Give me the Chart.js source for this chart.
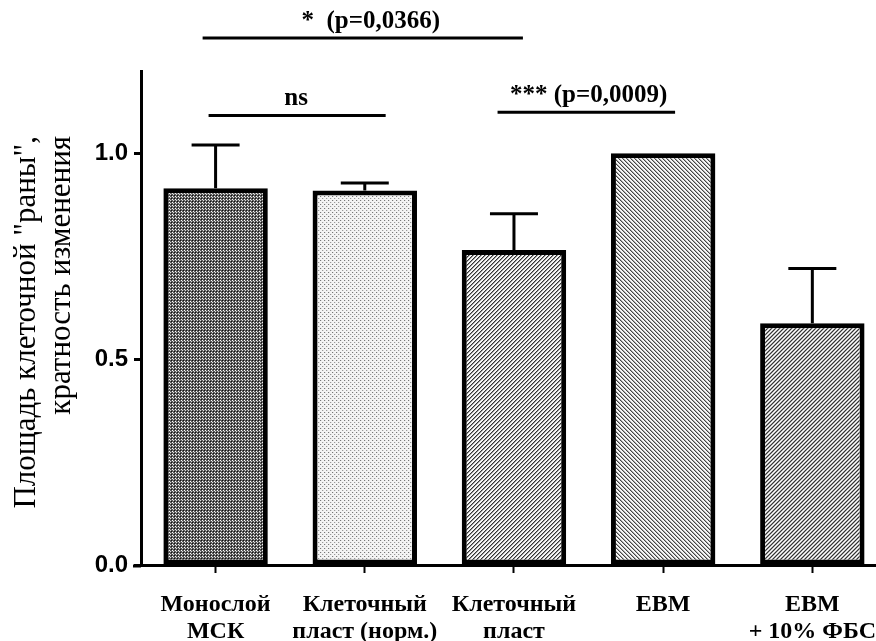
<!DOCTYPE html>
<html>
<head>
<meta charset="utf-8">
<script src="https://cdn.jsdelivr.net/npm/chart.js@4.4.1/dist/chart.umd.min.js"></script>
<style>
    html, body { margin: 0; padding: 0; background: #fff; overflow: hidden; }
    #chart { display: block; }
</style>
</head>
<body>
<canvas id="chart" width="894" height="641"></canvas>
<script>
const categories = [['Монослой', 'МСК'], ['Клеточный', 'пласт (норм.)'], ['Клеточный', 'пласт'], 'EBM', ['EBM', '+ 10% ФБС']];
const means = [0.915, 0.91, 0.765, 1.0, 0.587];
const sem = [0.105, 0.018, 0.088, 0, 0.133];
const yTicks = [0, 0.5, 1.0];
const yTitle = ['Площадь клеточной "раны",', 'кратность изменения'];

// brackets: [fromIndex, toIndex, level (data units), label, label centre index]
const brackets = [
    [-0.087, 2.06, 1.28, '*  (p=0,0366)', 1.04],
    [-0.047, 1.14, 1.092, 'ns', 0.54],
    [1.89, 3.08, 1.10, '*** (p=0,0009)', 2.5]
];

const makePattern = (size, bg, dots) => {
    const c = document.createElement('canvas');
    c.width = size; c.height = size;
    const g = c.getContext('2d');
    g.fillStyle = bg;
    g.fillRect(0, 0, size, size);
    dots.forEach(([x, y, col]) => { g.fillStyle = col; g.fillRect(x, y, 1, 1); });
    return document.getElementById('chart').getContext('2d').createPattern(c, 'repeat');
};

const patterns = [
    makePattern(3, '#5a5a5a', [[0, 0, '#111'], [1, 1, '#fff'], [2, 2, '#ddd']]),
    makePattern(4, '#f4f4f4', [[0, 0, '#777'], [2, 2, '#999'], [1, 0, '#ddd'], [3, 2, '#ddd']]),
    makePattern(4, '#f6f6f6', [[3, 0, '#333'], [2, 1, '#333'], [1, 2, '#333'], [0, 3, '#333'], [0, 0, '#999'], [3, 1, '#999'], [2, 2, '#999'], [1, 3, '#999']]),
    makePattern(4, '#f6f6f6', [[0, 0, '#444'], [1, 1, '#444'], [2, 2, '#444'], [3, 3, '#444'], [1, 0, '#aaa'], [2, 1, '#aaa'], [3, 2, '#aaa'], [0, 3, '#aaa']]),
    makePattern(4, '#b0b0b0', [[3, 0, '#333'], [2, 1, '#333'], [1, 2, '#333'], [0, 3, '#333'], [1, 0, '#fff'], [0, 1, '#fff'], [3, 2, '#fff'], [2, 3, '#fff']])
];

const errorBars = {
    id: 'errorBars',
    afterDatasetsDraw(chart) {
        const { ctx, scales: { y } } = chart;
        const meta = chart.getDatasetMeta(0);
        ctx.save();
        ctx.strokeStyle = '#000';
        ctx.lineWidth = 3;
        meta.data.forEach((bar, i) => {
            if (!sem[i]) return;
            const top = y.getPixelForValue(means[i] + sem[i]);
            ctx.beginPath();
            ctx.moveTo(bar.x, bar.y);
            ctx.lineTo(bar.x, top);
            ctx.moveTo(bar.x - 24, top);
            ctx.lineTo(bar.x + 24, top);
            ctx.stroke();
        });
        ctx.restore();
    }
};

const annotations = {
    id: 'annotations',
    afterDraw(chart) {
        const { ctx, chartArea, scales: { x, y } } = chart;
        ctx.save();
        ctx.strokeStyle = '#000';
        ctx.fillStyle = '#000';
        ctx.lineWidth = 3;

        // x axis line runs a little past the y axis on the left
        ctx.beginPath();
        ctx.moveTo(chartArea.left - 8, chartArea.bottom + 1);
        ctx.lineTo(chartArea.left, chartArea.bottom + 1);
        ctx.stroke();

        ctx.font = 'bold 25px "Liberation Serif", serif';
        ctx.textAlign = 'center';
        ctx.textBaseline = 'alphabetic';
        brackets.forEach(([a, b, level, label, mid]) => {
            const py = y.getPixelForValue(level);
            ctx.beginPath();
            ctx.moveTo(x.getPixelForValue(a), py);
            ctx.lineTo(x.getPixelForValue(b), py);
            ctx.stroke();
            ctx.fillText(label, x.getPixelForValue(mid), py - 10);
        });

        // y axis title, two rotated lines ending at the same height
        ctx.font = '31px "Liberation Serif", serif';
        ctx.textAlign = 'right';
        ctx.textBaseline = 'middle';
        [[27, yTitle[0]], [62, yTitle[1]]].forEach(([px, text]) => {
            ctx.save();
            ctx.translate(px, 136);
            ctx.rotate(-Math.PI / 2);
            ctx.fillText(text, 0, 0);
            ctx.restore();
        });
        ctx.restore();
    }
};

const drawChart = () => new Chart(document.getElementById('chart'), {
    type: 'bar',
    data: {
        labels: categories,
        datasets: [{
            data: means,
            backgroundColor: patterns,
            borderColor: '#000',
            borderWidth: 5,
            borderSkipped: false,
            categoryPercentage: 1,
            barPercentage: 0.7
        }]
    },
    options: {
        responsive: false,
        animation: false,
        layout: { padding: { top: 71, right: 0, left: 0, bottom: 0 } },
        plugins: { legend: { display: false }, tooltip: { enabled: false } },
        scales: {
            x: {
                grid: { display: true, drawOnChartArea: false, offset: false, tickLength: 8, tickWidth: 2, color: '#000' },
                border: { display: true, color: '#000', width: 3 },
                ticks: {
                    color: '#000',
                    padding: 18,
                    maxRotation: 0,
                    autoSkip: false,
                    font: { family: 'Liberation Serif', size: 24, weight: 'bold', lineHeight: 1.12 }
                },
                afterFit: (scale) => { scale.height = 76; }
            },
            y: {
                min: 0,
                max: 1.2,
                afterBuildTicks: (scale) => { scale.ticks = yTicks.map(v => ({ value: v })); },
                grid: { display: true, drawOnChartArea: false, tickLength: 7, tickWidth: 3, color: '#000' },
                border: { display: true, color: '#000', width: 3 },
                ticks: {
                    color: '#000',
                    padding: 6,
                    callback: (v) => v.toFixed(1),
                    font: { family: 'Liberation Sans', size: 24, weight: 'bold' }
                },
                afterFit: (scale) => { scale.width = 141; }
            }
        }
    },
    plugins: [errorBars, annotations]
});

Promise.all([
    document.fonts.load('31px "Liberation Serif"', 'Площадь'),
    document.fonts.load('bold 25px "Liberation Serif"', 'Клеточный'),
    document.fonts.load('bold 24px "Liberation Sans"', '0.5')
]).then(drawChart, drawChart);
</script>
</body>
</html>
